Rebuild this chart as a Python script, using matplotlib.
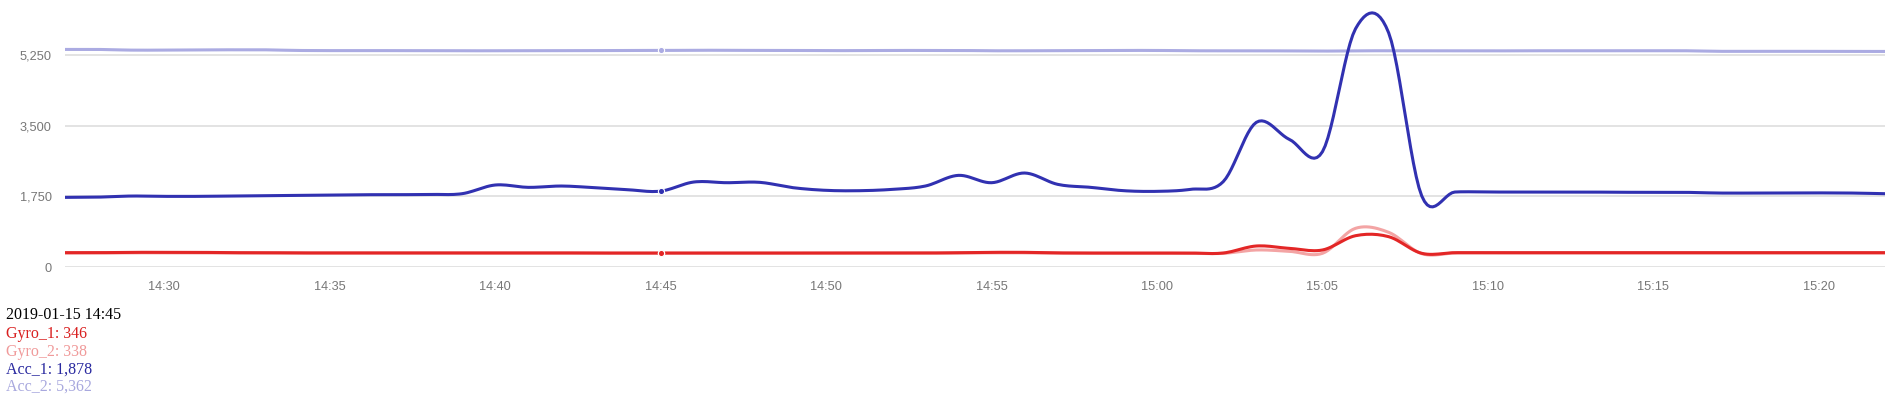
import numpy as np
import pandas as pd
import matplotlib
matplotlib.use('Agg')
import matplotlib.pyplot as plt
import matplotlib.dates as mdates
from matplotlib.ticker import FuncFormatter

# one reading per minute, 14:27 -> 15:22
times = pd.date_range('2019-01-15 14:27', '2019-01-15 15:22', freq='1min')

gyro_1 = [355, 355, 363, 363, 363, 355, 355, 350, 350, 350, 350, 350, 350, 350,
          350, 350, 346, 346, 346, 346, 346, 346, 346, 346, 346, 346, 346, 355,
          363, 363, 350, 346, 346, 346, 346, 346, 520, 462, 421, 775, 751, 339,
          355, 355, 355, 355, 355, 355, 355, 355, 355, 355, 355, 355, 355, 355]
gyro_2 = [345, 345, 350, 350, 350, 345, 345, 340, 340, 340, 340, 340, 340, 340,
          340, 340, 338, 338, 338, 338, 338, 338, 338, 338, 338, 338, 338, 345,
          350, 350, 340, 338, 338, 338, 338, 338, 421, 388, 339, 958, 859, 330,
          345, 345, 345, 345, 345, 345, 345, 345, 345, 345, 345, 345, 345, 345]
acc_1 = [1724, 1730, 1757, 1749, 1749, 1757, 1765, 1773, 1782, 1790, 1790, 1798,
         1815, 2030, 1972, 2005, 1964, 1914, 1878, 2104, 2087, 2096, 1964, 1898,
         1889, 1922, 2005, 2269, 2087, 2327, 2046, 1972, 1889, 1873, 1922, 2112,
         3581, 3160, 2855, 5900, 5800, 1760, 1856, 1856, 1856, 1856, 1856, 1850,
         1850, 1848, 1831, 1831, 1835, 1835, 1831, 1815]
acc_2 = [5387, 5387, 5370, 5370, 5375, 5378, 5378, 5362, 5358, 5358, 5358, 5358,
         5354, 5354, 5354, 5354, 5358, 5362, 5362, 5366, 5366, 5362, 5362, 5358,
         5358, 5362, 5362, 5362, 5354, 5354, 5358, 5358, 5362, 5362, 5354, 5354,
         5354, 5350, 5346, 5354, 5354, 5354, 5350, 5350, 5354, 5354, 5354, 5354,
         5354, 5354, 5340, 5340, 5340, 5340, 5342, 5337]

names = ['Gyro_1', 'Gyro_2', 'Acc_1', 'Acc_2']
colors = ['#e32626', '#f3a4a4', '#3131b1', '#ababe2']
series = [gyro_1, gyro_2, acc_1, acc_2]
zorders = [4, 3, 6, 5]
sel = 18  # 14:45, the highlighted point


def smooth(x, y, n=12):
    # catmull-rom style curve through the points
    x = np.asarray(x, float)
    y = np.asarray(y, float)
    m = np.gradient(y, x)
    xs, ys = [], []
    for i in range(len(x) - 1):
        t = np.linspace(0, 1, n, endpoint=False)
        h = x[i + 1] - x[i]
        h00 = 2 * t**3 - 3 * t**2 + 1
        h10 = t**3 - 2 * t**2 + t
        h01 = -2 * t**3 + 3 * t**2
        h11 = t**3 - t**2
        xs.append(x[i] + t * h)
        ys.append(h00 * y[i] + h10 * h * m[i] + h01 * y[i + 1] + h11 * h * m[i + 1])
    xs.append([x[-1]])
    ys.append([y[-1]])
    return np.concatenate(xs), np.concatenate(ys)


xnum = mdates.date2num(times)

fig = plt.figure(figsize=(18.94, 4.01), dpi=100)
ax = fig.add_axes([65 / 1894, 1 - 267 / 401, 1820 / 1894, 267 / 401])

for s, c, z in zip(series, colors, zorders):
    xs, ys = smooth(xnum, s)
    ax.plot(xs, ys, color=c, lw=2.2, zorder=z, solid_capstyle='round')
    ax.plot(xnum[sel], s[sel], 'o', color=c, ms=4.5, mec='white', mew=0.8, zorder=z + 4)

ax.set_xlim(xnum[0], xnum[-1])
ax.set_ylim(0, 6611)
ax.set_yticks([0, 1750, 3500, 5250])
ax.yaxis.set_major_formatter(FuncFormatter(lambda v, p: f'{int(v):,}'))
ax.xaxis.set_major_locator(mdates.MinuteLocator(byminute=range(0, 60, 5)))
ax.xaxis.set_major_formatter(mdates.DateFormatter('%H:%M'))
ax.grid(axis='y', color='#dedede', lw=1.2, zorder=0)
ax.grid(axis='x', visible=False)
for sp in ax.spines.values():
    sp.set_visible(False)
ax.tick_params(length=0, labelsize=9.2, labelcolor='#777777', labelfontfamily='Liberation Sans')
ax.tick_params(axis='y', pad=9.5)
ax.tick_params(axis='x', pad=10)

# text readout under the chart
fig.text(6 / 1894, 1 - 319 / 401, '2019-01-15 14:45', color='black',
         family='Liberation Serif', fontsize=11.5, va='baseline')
base = [337.5, 355.5, 373.5, 391]
for nm, s, c, b in zip(names, series, ['#d92020', '#f09a9a', '#2a2aa0', '#a8a8de'], base):
    fig.text(6 / 1894, 1 - b / 401, f'{nm}: {s[sel]:,}', color=c,
             family='Liberation Serif', fontsize=11.5, va='baseline')

fig.savefig('out.png', dpi=100)
